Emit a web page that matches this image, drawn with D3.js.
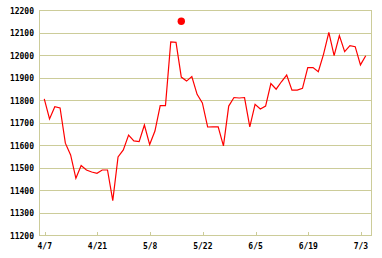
<!DOCTYPE html>
<html>
<head>
<meta charset="utf-8">
<script src="https://cdn.jsdelivr.net/npm/d3@7/dist/d3.min.js"></script>
<style>
  html, body { margin: 0; padding: 0; background: #fff; }
  svg { display: block; }
  text { font-family: "DejaVu Sans Mono", monospace; font-weight: bold; font-size: 8px; fill: #000; }
</style>
</head>
<body>
<script>
const dates = [
  "4/7","4/8","4/9","4/10","4/11",
  "4/14","4/15","4/16","4/17","4/18",
  "4/21","4/22","4/23","4/24","4/25",
  "4/28","4/30","5/1","5/2",
  "5/7","5/8","5/9",
  "5/12","5/13","5/14","5/15","5/16",
  "5/19","5/20","5/21","5/22","5/23",
  "5/26","5/27","5/28","5/29","5/30",
  "6/2","6/3","6/4","6/5","6/6",
  "6/9","6/10","6/11","6/12","6/13",
  "6/16","6/17","6/18","6/19","6/20",
  "6/23","6/24","6/25","6/26","6/27",
  "6/30","7/1","7/2","7/3","7/4"
];
const values = [
  11805, 11716, 11770, 11765, 11608,
  11556, 11452, 11509, 11489, 11480,
  11474, 11489, 11489, 11353, 11547,
  11578, 11644, 11618, 11615,
  11689, 11602, 11662,
  11775, 11775, 12058, 12056, 11902,
  11884, 11904, 11825, 11787, 11680,
  11681, 11681, 11596, 11773, 11811,
  11809, 11811, 11681, 11781, 11760,
  11773, 11873, 11848, 11881, 11911,
  11844, 11844, 11852, 11944, 11944,
  11926, 12004, 12101, 11997, 12086,
  12015, 12042, 12037, 11956, 11997
];
const yTicks = [11200, 11300, 11400, 11500, 11600, 11700, 11800, 11900, 12000, 12100, 12200];
const xTickLabels = ["4/7", "4/21", "5/8", "5/22", "6/5", "6/19", "7/3"];
const markerDates = ["5/16"];
const markerValues = [12150];

(function () {
const W = 382, H = 258;
const pl = 39, pr = 371, pt = 10, pb = 235;
const gridColor = "#cccc99";

const svg = d3.select("body").append("svg").attr("width", W).attr("height", H);

const x = d3.scalePoint().domain(dates).range([pl, pr]).padding(1);
const y = d3.scaleLinear().domain([11200, 12200]).range([pb, pt]);

// horizontal gridlines
svg.append("g").selectAll("line").data(yTicks).join("line")
  .attr("x1", pl).attr("x2", pr)
  .attr("y1", d => Math.round(y(d)) + 0.5).attr("y2", d => Math.round(y(d)) + 0.5)
  .attr("stroke", gridColor).attr("stroke-width", 1).attr("shape-rendering", "crispEdges");

// frame verticals
svg.append("line").attr("x1", pl + 0.5).attr("x2", pl + 0.5)
  .attr("y1", pt).attr("y2", pb + 1)
  .attr("stroke", gridColor).attr("shape-rendering", "crispEdges");
svg.append("line").attr("x1", pr + 0.5).attr("x2", pr + 0.5)
  .attr("y1", pt).attr("y2", pb + 1)
  .attr("stroke", gridColor).attr("shape-rendering", "crispEdges");

// y labels via axis
const yAxis = svg.append("g").attr("transform", `translate(${pl},0.5)`)
  .call(d3.axisLeft(y).tickValues(yTicks).tickSize(0).tickPadding(5).tickFormat(d3.format("d")));
yAxis.select(".domain").remove();
yAxis.selectAll("text").style("font-family", "'DejaVu Sans Mono', monospace").style("font-weight", "bold").style("font-size", "8px").attr("fill", "#000");

// x ticks (inside, upward) and labels
const xAxis = svg.append("g").attr("transform", `translate(0,${Math.round(y(11200)) + 0.5})`)
  .call(d3.axisBottom(x).tickValues(xTickLabels).tickSizeInner(-4).tickSizeOuter(0).tickPadding(8));
xAxis.select(".domain").remove();
xAxis.selectAll(".tick line").attr("stroke", gridColor).attr("shape-rendering", "crispEdges")
  .attr("transform", "translate(0.5,0)");
xAxis.selectAll("text").style("font-family", "'DejaVu Sans Mono', monospace").style("font-weight", "bold").style("font-size", "8px").attr("fill", "#000");

// line
const line = d3.line().x((d, i) => x(dates[i])).y(d => y(d));
svg.append("path").datum(values)
  .attr("d", line).attr("fill", "none").attr("stroke", "#ff0000").attr("stroke-width", 1.2);

// marker
svg.append("g").selectAll("circle").data(markerDates).join("circle")
  .attr("cx", d => x(d)).attr("cy", (d, i) => y(markerValues[i]))
  .attr("r", 3.7).attr("fill", "#ff0000");
})();
</script>
</body>
</html>
